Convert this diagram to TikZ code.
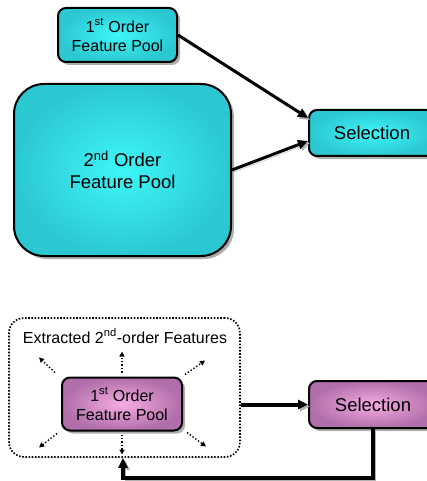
\documentclass[tikz,border=0pt]{standalone}
\usepackage{fontspec}
\setmainfont{Liberation Sans}
\usetikzlibrary{arrows.meta,shadows,calc}

\definecolor{cyanin}{RGB}{62,246,248}
\definecolor{cyanout}{RGB}{44,200,210}
\definecolor{pinkin}{RGB}{246,172,226}
\definecolor{pinkout}{RGB}{176,110,170}

\tikzset{
  box/.style={draw=black, line width=2pt, rounded corners=8pt,
    align=center, inner sep=0pt,
    drop shadow={shadow xshift=3pt, shadow yshift=-3pt, fill=black!45, opacity=.7}},
  cyanbox/.style={box, shading=radial, inner color=cyanin, outer color=cyanout},
  pinkbox/.style={box, shading=radial, inner color=pinkin, outer color=pinkout},
  mid/.style={font=\fontsize{16}{19}\selectfont},
  big/.style={font=\fontsize{18.5}{22}\selectfont},
  flow/.style={line width=3pt, -{Triangle[length=10pt,width=9pt]},
    preaction={draw=black!30, transform canvas={xshift=2pt,yshift=-2pt}}},
  heavyflow/.style={flow, line width=4pt},
  spread/.style={dotted, line width=1.4pt, -{Triangle[length=5pt,width=5pt]}}
}

\begin{document}
\begin{tikzpicture}[x=1pt,y=-1pt]
\useasboundingbox (0,0) rectangle (426,481);

% upper diagram: two pools feeding selection
\node[cyanbox, mid, minimum width=119pt, minimum height=54pt] (p1) at (117.5,35)
  {1\textsuperscript{st} Order\\Feature Pool};
\node[cyanbox, big, rounded corners=30pt, minimum width=217pt, minimum height=172pt] (p2) at (122.5,170)
  {2\textsuperscript{nd} Order\\Feature Pool};
\node[cyanbox, big, minimum width=126pt, minimum height=46pt] (s1) at (372,133) {Selection};

\draw[flow] (p1.east) -- ($(s1.west)+(0,-15)$);
\draw[flow] (p2.east) -- ($(s1.west)+(0,8)$);

% lower diagram: pool with extracted features and feedback loop
\node[draw=black, line width=1.6pt, dash pattern=on 1.6pt off 1.6pt, rounded corners=15pt,
  minimum width=231pt, minimum height=139pt] (ext) at (124.5,387.5) {};
\node[mid, anchor=center] (extlabel) at (125,336) {Extracted 2\textsuperscript{nd}-order Features};

\node[pinkbox, mid, minimum width=120pt, minimum height=53pt] (q1) at (122,404)
  {1\textsuperscript{st} Order\\Feature Pool};
\node[pinkbox, big, minimum width=128pt, minimum height=47pt] (s2) at (373,404.5) {Selection};

% dotted arrows spreading out of the pool
\draw[spread] ($(q1.north)+(0,-4)$) -- ++(0,-21);
\draw[spread] ($(q1.south)+(0,3)$) -- ++(0,20);
\draw[spread] ($(q1.north west)+(-6,-4)$) -- ++(-16,-15);
\draw[spread] ($(q1.north east)+(2,-2)$) -- ++(20,-14);
\draw[spread] ($(q1.south west)+(-4,2)$) -- ++(-18,14);
\draw[spread] ($(q1.south east)+(4,1)$) -- ++(19,14);

\draw[heavyflow] (ext.east |- s2.west) -- (s2.west);

\coordinate (fbcorner) at (123,478);
\draw[heavyflow] (s2.south) -- (s2.south |- fbcorner) -- (fbcorner) -- (fbcorner |- ext.south);
\end{tikzpicture}
\end{document}
